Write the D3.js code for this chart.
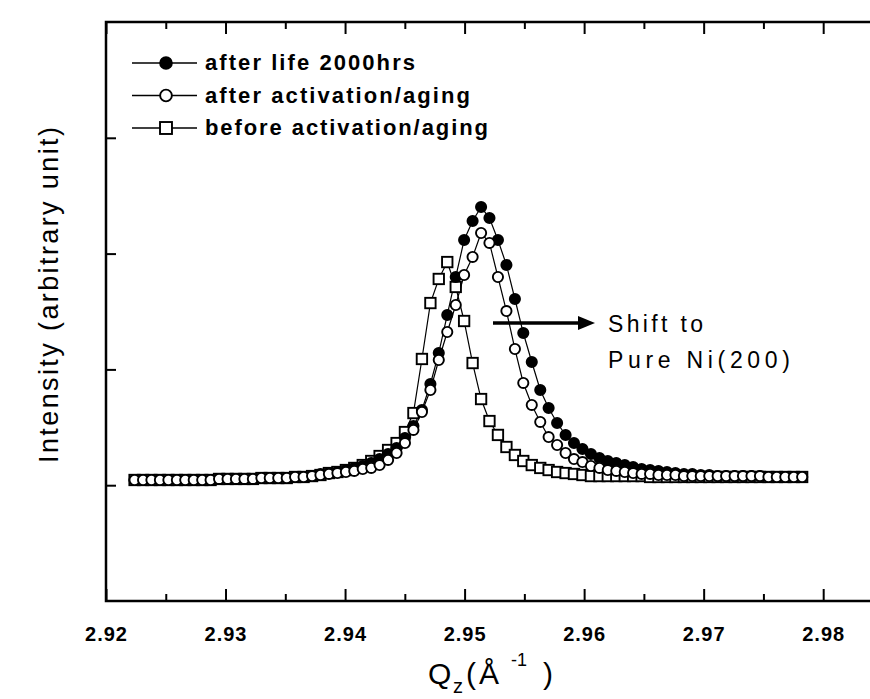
<!DOCTYPE html>
<html>
<head>
<meta charset="utf-8">
<script src="https://cdn.jsdelivr.net/npm/d3@7"></script>
<style>
  html, body { margin: 0; padding: 0; background: #fff; }
  text { font-family: "Liberation Sans", Arial, Helvetica, sans-serif; fill: #000; }
</style>
</head>
<body>
<div id="chart"></div>
<script>
// Q_z grid (Å^-1)
const qz = [
  2.92239, 2.92310, 2.92380, 2.92451, 2.92522, 2.92593, 2.92663, 2.92734, 2.92805, 2.92875,
  2.92946, 2.93017, 2.93087, 2.93158, 2.93229, 2.93300, 2.93370, 2.93441, 2.93512, 2.93582,
  2.93653, 2.93724, 2.93794, 2.93865, 2.93936, 2.94007, 2.94077, 2.94148, 2.94219, 2.94289,
  2.94360, 2.94431, 2.94501, 2.94572, 2.94643, 2.94714, 2.94784, 2.94855, 2.94926, 2.94996,
  2.95067, 2.95138, 2.95208, 2.95279, 2.95350, 2.95421, 2.95491, 2.95562, 2.95633, 2.95703,
  2.95774, 2.95845, 2.95915, 2.95986, 2.96057, 2.96128, 2.96198, 2.96269, 2.96340, 2.96410,
  2.96481, 2.96552, 2.96622, 2.96693, 2.96764, 2.96835, 2.96905, 2.96976, 2.97047, 2.97117,
  2.97188, 2.97259, 2.97329, 2.97400, 2.97471, 2.97542, 2.97612, 2.97683, 2.97754, 2.97824
];

const afterLife = [
  1.045, 1.045, 1.045, 1.045, 1.045, 1.045, 1.045, 1.045, 1.045, 1.045,
  1.054, 1.054, 1.054, 1.054, 1.054, 1.062, 1.062, 1.062, 1.062, 1.071,
  1.071, 1.079, 1.097, 1.105, 1.114, 1.131, 1.149, 1.166, 1.192, 1.226,
  1.269, 1.321, 1.408, 1.511, 1.649, 1.874, 2.142, 2.470, 2.798, 3.117,
  3.282, 3.402, 3.307, 3.117, 2.902, 2.608, 2.314, 2.064, 1.822, 1.667,
  1.537, 1.434, 1.364, 1.313, 1.269, 1.235, 1.209, 1.192, 1.174, 1.157,
  1.140, 1.131, 1.123, 1.114, 1.105, 1.097, 1.097, 1.088, 1.088, 1.079,
  1.079, 1.079, 1.079, 1.079, 1.079, 1.071, 1.071, 1.071, 1.071, 1.071
];

const afterActivation = [
  1.045, 1.045, 1.045, 1.045, 1.045, 1.045, 1.045, 1.045, 1.045, 1.045,
  1.054, 1.054, 1.054, 1.054, 1.054, 1.062, 1.062, 1.062, 1.062, 1.071,
  1.071, 1.079, 1.088, 1.097, 1.105, 1.114, 1.123, 1.140, 1.149, 1.174,
  1.218, 1.278, 1.364, 1.477, 1.632, 1.822, 2.081, 2.323, 2.556, 2.815,
  2.971, 3.178, 3.092, 2.798, 2.504, 2.176, 1.883, 1.693, 1.546, 1.416,
  1.347, 1.278, 1.226, 1.200, 1.166, 1.149, 1.131, 1.123, 1.114, 1.105,
  1.097, 1.097, 1.088, 1.088, 1.088, 1.079, 1.079, 1.079, 1.079, 1.079,
  1.079, 1.079, 1.079, 1.079, 1.079, 1.071, 1.071, 1.071, 1.071, 1.071
];

const beforeActivation = [
  1.045, 1.045, 1.045, 1.045, 1.045, 1.045, 1.045, 1.045, 1.045, 1.045,
  1.054, 1.054, 1.054, 1.054, 1.054, 1.062, 1.062, 1.062, 1.062, 1.071,
  1.071, 1.079, 1.088, 1.105, 1.114, 1.131, 1.149, 1.174, 1.209, 1.252,
  1.304, 1.364, 1.459, 1.623, 2.090, 2.573, 2.781, 2.927, 2.712, 2.418,
  2.055, 1.744, 1.554, 1.434, 1.330, 1.261, 1.209, 1.174, 1.149, 1.131,
  1.114, 1.105, 1.097, 1.088, 1.079, 1.079, 1.079, 1.079, 1.079, 1.079,
  1.079, 1.071, 1.071, 1.071, 1.071, 1.071, 1.071, 1.071, 1.071, 1.071,
  1.071, 1.071, 1.071, 1.071, 1.071, 1.071, 1.071, 1.071, 1.071, 1.071
];

const seriesNames = ["after life 2000hrs", "after activation/aging", "before activation/aging"];
const xTicks = [2.92, 2.93, 2.94, 2.95, 2.96, 2.97, 2.98];
const xMinorTicks = [2.925, 2.935, 2.945, 2.955, 2.965, 2.975];
const yTicks = [1, 2, 3, 4];

const W = 870, H = 699;
const frame = { left: 106, top: 22, right: 871, bottom: 601 };

const x = d3.scaleLinear().domain([2.92, 2.984]).range([frame.left, frame.right]);
const y = d3.scaleLinear().domain([0, 5]).range([frame.bottom, frame.top]);

const svg = d3.select("#chart")
  .append("svg")
  .attr("width", W)
  .attr("height", H);

svg.append("rect").attr("width", W).attr("height", H).attr("fill", "#fff");

// axes (ticks point inward, labels only on the bottom)
const styleAxis = (g) => {
  g.select(".domain").remove();
  g.selectAll(".tick line").attr("stroke", "#000").attr("stroke-width", 2);
};

svg.append("g")
  .attr("transform", `translate(0,${frame.bottom})`)
  .call(d3.axisBottom(x).tickValues(xTicks).tickSizeInner(-12).tickSizeOuter(0).tickPadding(26).tickFormat(d3.format(".2f")))
  .call(styleAxis)
  .call(g => g.selectAll(".tick text")
    .attr("font-size", 20)
    .attr("font-weight", "bold")
    .attr("font-family", "'Liberation Sans', Arial, sans-serif")
    .attr("letter-spacing", 1));

svg.append("g")
  .attr("transform", `translate(0,${frame.bottom})`)
  .call(d3.axisBottom(x).tickValues(xMinorTicks).tickSizeInner(-7).tickSizeOuter(0).tickFormat(""))
  .call(styleAxis);

svg.append("g")
  .attr("transform", `translate(0,${frame.top})`)
  .call(d3.axisTop(x).tickValues(xTicks).tickSizeInner(-12).tickSizeOuter(0).tickFormat(""))
  .call(styleAxis);

svg.append("g")
  .attr("transform", `translate(0,${frame.top})`)
  .call(d3.axisTop(x).tickValues(xMinorTicks).tickSizeInner(-7).tickSizeOuter(0).tickFormat(""))
  .call(styleAxis);

svg.append("g")
  .attr("transform", `translate(${frame.left},0)`)
  .call(d3.axisLeft(y).tickValues(yTicks).tickSizeInner(-10).tickSizeOuter(0).tickFormat(""))
  .call(styleAxis);

svg.append("path")
  .attr("d", `M${frame.right},${frame.top}H${frame.left}V${frame.bottom}H${frame.right}`)
  .attr("fill", "none")
  .attr("stroke", "#000")
  .attr("stroke-width", 2.5);

// series
const series = [
  { name: seriesNames[0], values: afterLife, shape: "circle", fill: "#000" },
  { name: seriesNames[1], values: afterActivation, shape: "circle", fill: "#fff" },
  { name: seriesNames[2], values: beforeActivation, shape: "square", fill: "#fff" }
].map(s => ({ ...s, points: qz.map((q, i) => ({ q, v: s.values[i] })) }));

const line = d3.line().x(d => x(d.q)).y(d => y(d.v));

svg.append("g").selectAll("path")
  .data(series)
  .join("path")
  .attr("d", d => line(d.points))
  .attr("fill", "none")
  .attr("stroke", "#000")
  .attr("stroke-width", 1.2);

const R = 5.1, SQ = 10.4;

function drawMarker(g, shape, fill, cx, cy, scale = 1) {
  if (shape === "circle") {
    g.append("circle")
      .attr("cx", cx).attr("cy", cy).attr("r", R * scale)
      .attr("fill", fill).attr("stroke", "#000").attr("stroke-width", 1.9);
  } else {
    const s = SQ * scale;
    g.append("rect")
      .attr("x", cx - s / 2).attr("y", cy - s / 2).attr("width", s).attr("height", s)
      .attr("fill", fill).attr("stroke", "#000").attr("stroke-width", 1.9);
  }
}

// squares underneath, open circles on top
[2, 0, 1].forEach(i => {
  const s = series[i];
  const g = svg.append("g");
  s.points.forEach(p => drawMarker(g, s.shape, s.fill, x(p.q), y(p.v)));
});

// legend
const legendRows = [63, 95.5, 128];
const legendWidths = [210, 265, 283];
const legend = svg.append("g");
series.forEach((s, i) => {
  const ly = legendRows[i];
  legend.append("line")
    .attr("x1", 132).attr("x2", 197).attr("y1", ly).attr("y2", ly)
    .attr("stroke", "#000").attr("stroke-width", 1.6);
  drawMarker(legend, s.shape, s.fill, 166, ly, 1.15);
  legend.append("text")
    .attr("x", 205).attr("y", ly + 7)
    .attr("font-size", 22)
    .attr("font-weight", "bold")
    .attr("textLength", legendWidths[i])
    .attr("lengthAdjust", "spacing")
    .text(s.name);
});

// arrow + note
svg.append("line")
  .attr("x1", 493).attr("x2", 582).attr("y1", 323).attr("y2", 323)
  .attr("stroke", "#000").attr("stroke-width", 3.5);
svg.append("path")
  .attr("d", "M578,316L595,323L578,330Z")
  .attr("fill", "#000");

svg.append("text")
  .attr("x", 608).attr("y", 332)
  .attr("font-size", 23)
  .attr("textLength", 95).attr("lengthAdjust", "spacing")
  .text("Shift to");
svg.append("text")
  .attr("x", 608).attr("y", 368)
  .attr("font-size", 23)
  .attr("textLength", 182).attr("lengthAdjust", "spacing")
  .text("Pure Ni(200)");

// axis titles
svg.append("text")
  .attr("transform", "translate(58,295) rotate(-90)")
  .attr("text-anchor", "middle")
  .attr("font-size", 27)
  .attr("textLength", 336).attr("lengthAdjust", "spacing")
  .text("Intensity (arbitrary unit)");

const xTitle = svg.append("g");
xTitle.append("text").attr("x", 428).attr("y", 684).attr("font-size", 30).text("Q");
xTitle.append("text").attr("x", 453).attr("y", 693).attr("font-size", 20).text("z");
xTitle.append("text").attr("x", 466).attr("y", 684).attr("font-size", 30).text("(");
xTitle.append("text").attr("x", 479).attr("y", 684).attr("font-size", 30).text("Å");
xTitle.append("text").attr("x", 511).attr("y", 666).attr("font-size", 18).text("-1");
xTitle.append("text").attr("x", 543).attr("y", 684).attr("font-size", 30).text(")");
</script>
</body>
</html>
